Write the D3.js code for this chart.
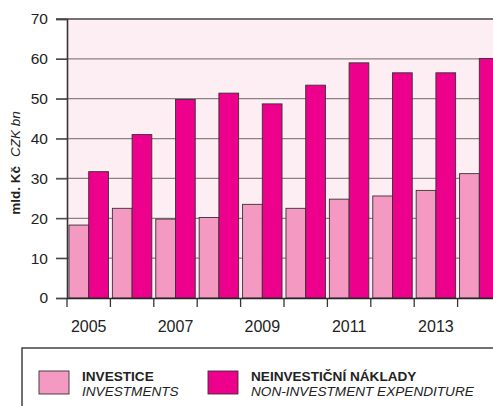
<!DOCTYPE html>
<html>
<head>
<meta charset="utf-8">
<script src="https://cdn.jsdelivr.net/npm/d3@7"></script>
<style>
  body { margin: 0; background: #fff; }
  svg { display: block; font-family: "Liberation Sans", Arial, sans-serif; }
</style>
</head>
<body>
<script>
"use strict";
var years = [2005, 2006, 2007, 2008, 2009, 2010, 2011, 2012, 2013, 2014];
var investice = [18.3, 22.5, 19.8, 20.2, 23.5, 22.5, 24.8, 25.6, 27.0, 31.2];
var naklady = [31.7, 41.0, 49.8, 51.4, 48.7, 53.4, 59.0, 56.5, 56.5, 60.1];
var yTicks = [0, 10, 20, 30, 40, 50, 60, 70];
var yearLabels = [2005, 2007, 2009, 2011, 2013];

(function () {
  var W = 493, H = 406;
  var plotLeft = 67, plotTop = 19, plotBottom = 298;
  var bandW = 43.4;
  var plotRight = plotLeft + bandW * years.length;

  var svg = d3.select("body").append("svg").attr("width", W).attr("height", H);

  var x = d3.scaleBand().domain(years).range([plotLeft, plotRight]);
  var xs = d3.scaleBand().domain(["inv", "nak"]).range([0, x.bandwidth()]).paddingOuter(0.1);
  var y = d3.scaleLinear().domain([0, 70]).range([plotBottom, plotTop]);

  // plot background
  svg.append("rect").attr("x", plotLeft).attr("y", plotTop)
    .attr("width", plotRight - plotLeft).attr("height", plotBottom - plotTop)
    .attr("fill", "#fdeef4");

  // gridlines
  svg.append("g").selectAll("line").data(yTicks.filter(function(d){ return d > 0 && d < 70; }))
    .enter().append("line")
    .attr("x1", 56).attr("x2", plotRight)
    .attr("y1", function(d){ return y(d); }).attr("y2", function(d){ return y(d); })
    .attr("stroke", "#8a8284").attr("stroke-width", 1.3);

  // top line
  svg.append("line").attr("x1", 56).attr("x2", plotRight).attr("y1", y(70)).attr("y2", y(70))
    .attr("stroke", "#4a4446").attr("stroke-width", 1.4);

  // bars
  var groups = svg.append("g").selectAll("g").data(years).enter().append("g")
    .attr("transform", function(d){ return "translate(" + x(d) + ",0)"; });

  groups.append("rect")
    .attr("x", xs("inv")).attr("width", xs.bandwidth())
    .attr("y", function(d, i){ return y(investice[i]); })
    .attr("height", function(d, i){ return plotBottom - y(investice[i]); })
    .attr("fill", "#f49ac2").attr("stroke", "#3a3033").attr("stroke-width", 0.9);

  groups.append("rect")
    .attr("x", xs("nak")).attr("width", xs.bandwidth())
    .attr("y", function(d, i){ return y(naklady[i]); })
    .attr("height", function(d, i){ return plotBottom - y(naklady[i]); })
    .attr("fill", "#ec008c").attr("stroke", "#3a3033").attr("stroke-width", 0.9);

  // y axis
  var yAxis = svg.append("g").attr("transform", "translate(" + plotLeft + ",0)")
    .call(d3.axisLeft(y).tickValues(yTicks).tickSize(11).tickPadding(8));
  yAxis.select(".domain").attr("stroke", "#3a3436").attr("stroke-width", 1.6);
  yAxis.selectAll(".tick line").attr("stroke", "#4a4446").attr("stroke-width", 1.3);
  yAxis.selectAll("text").attr("font-size", 15.5).attr("fill", "#222")
    .attr("font-family", "Liberation Sans, Arial, sans-serif");

  // x axis
  var xAxis = svg.append("g").attr("transform", "translate(0," + plotBottom + ")")
    .call(d3.axisBottom(x).tickValues([]).tickSizeOuter(0));
  xAxis.select(".domain").attr("stroke", "#2a2426").attr("stroke-width", 1.6);
  svg.append("g").selectAll("line").data(years).enter().append("line")
    .attr("x1", function(d){ return x(d); }).attr("x2", function(d){ return x(d); })
    .attr("y1", plotBottom).attr("y2", plotBottom + 9)
    .attr("stroke", "#3a3436").attr("stroke-width", 1.3);
  svg.append("g").selectAll("text").data(yearLabels).enter().append("text")
    .attr("x", function(d){ return x(d) + x.bandwidth() / 2; })
    .attr("y", 332).attr("text-anchor", "middle")
    .attr("font-size", 16).attr("fill", "#222")
    .text(function(d){ return d; });

  // y axis title
  var yt = svg.append("text").attr("transform", "translate(20,163) rotate(-90)")
    .attr("text-anchor", "middle").attr("font-size", 13.5).attr("fill", "#222");
  yt.append("tspan").attr("font-weight", "bold").text("mld. Kč");
  yt.append("tspan").attr("dx", 9).attr("font-style", "italic").text("CZK bn");

  // legend
  svg.append("rect").attr("x", 22).attr("y", 348).attr("width", 480).attr("height", 70)
    .attr("fill", "#fff").attr("stroke", "#3a3436").attr("stroke-width", 1.4);

  var legend = [
    { fill: "#f49ac2", x: 39, t1: "INVESTICE", t2: "INVESTMENTS" },
    { fill: "#ec008c", x: 208, t1: "NEINVESTIČNÍ NÁKLADY", t2: "NON-INVESTMENT EXPENDITURE" }
  ];
  var lg = svg.append("g").selectAll("g").data(legend).enter().append("g");
  lg.append("rect").attr("x", function(d){ return d.x; }).attr("y", 371)
    .attr("width", 30).attr("height", 23)
    .attr("fill", function(d){ return d.fill; }).attr("stroke", "#3a3033").attr("stroke-width", 0.9);
  lg.append("text").attr("x", function(d){ return d.x + 43; }).attr("y", 380.5)
    .attr("font-size", 13.6).attr("font-weight", "bold").attr("fill", "#222")
    .text(function(d){ return d.t1; });
  lg.append("text").attr("x", function(d){ return d.x + 43; }).attr("y", 396)
    .attr("font-size", 13.6).attr("font-style", "italic").attr("fill", "#222")
    .text(function(d){ return d.t2; });
})();
</script>
</body>
</html>
